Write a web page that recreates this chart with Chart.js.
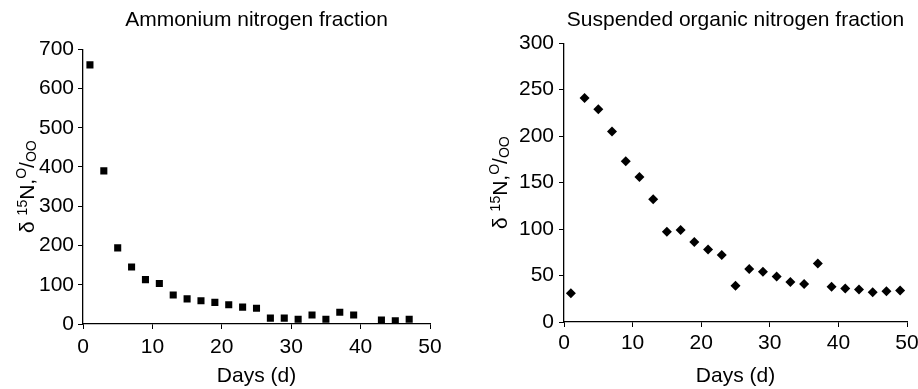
<!DOCTYPE html>
<html>
<head>
<meta charset="utf-8">
<script src="https://cdn.jsdelivr.net/npm/chart.js@4.4.1/dist/chart.umd.min.js"></script>
<style>
  html, body { margin: 0; padding: 0; background: #fff; }
  #wrap { position: relative; width: 918px; height: 389px; }
  .box { position: absolute; top: 0; width: 459px; height: 389px; }
  #b1 { left: 0; }
  #b2 { left: 459px; }
</style>
</head>
<body>
<div id="wrap">
  <div class="box" id="b1"><canvas id="c1"></canvas></div>
  <div class="box" id="b2"><canvas id="c2"></canvas></div>
</div>
<script>
// ---- Data ----
const ammoniumDays = [1, 3, 5, 7, 9, 11, 13, 15, 17, 19, 21, 23, 25, 27, 29, 31, 33, 35, 37, 39, 43, 45, 47];
const ammoniumValues = [660, 390, 194, 145, 113, 103, 74, 64, 59, 55, 49, 43, 40, 15, 15, 12, 23, 12, 30, 23, 10, 8, 12];

const organicDays = [1, 3, 5, 7, 9, 11, 13, 15, 17, 19, 21, 23, 25, 27, 29, 31, 33, 35, 37, 39, 41, 43, 45, 47, 49];
const organicValues = [31, 241, 229, 205, 173, 156, 132, 97, 99, 86, 78, 72, 39, 57, 54, 49, 43, 41, 63, 38, 36, 35, 32, 33, 34];

const title1 = 'Ammonium nitrogen fraction';
const title2 = 'Suspended organic nitrogen fraction';
const xTitle = 'Days (d)';
const xTicks = [0, 10, 20, 30, 40, 50];
const yTicks1 = [0, 100, 200, 300, 400, 500, 600, 700];
const yTicks2 = [0, 50, 100, 150, 200, 250, 300];

const FONT = "'Liberation Sans', Arial, Helvetica, sans-serif";
const FS = 21;

function yLabelPlugin(baselineX) {
  return {
    id: 'yLabel',
    afterDraw(chart) {
      const ctx = chart.ctx;
      const ca = chart.chartArea;
      const cy = (ca.top + ca.bottom) / 2;
      const parts = [
        { t: '\u03B4 ', size: 21, dy: 0 },
        { t: '15', size: 14, dy: -7 },
        { t: 'N,', size: 21, dy: 0 },
        { t: 'O', size: 14, dy: -8 },
        { t: '/', size: 21, dy: 0 },
        { t: 'OO', size: 14, dy: 2 }
      ];
      ctx.save();
      ctx.translate(baselineX, cy);
      ctx.rotate(-Math.PI / 2);
      ctx.fillStyle = '#000';
      ctx.textBaseline = 'alphabetic';
      ctx.textAlign = 'left';
      let total = 0;
      parts.forEach(p => { ctx.font = p.size + 'px ' + FONT; p.w = ctx.measureText(p.t).width; total += p.w; });
      let x = -total / 2;
      parts.forEach(p => { ctx.font = p.size + 'px ' + FONT; ctx.fillText(p.t, x, p.dy); x += p.w; });
      ctx.restore();
    }
  };
}

function makeChart(id, cfg) {
  return new Chart(document.getElementById(id), {
    type: 'scatter',
    data: {
      datasets: [{
        data: cfg.xs.map((d, i) => ({ x: d, y: cfg.ys[i] })),
        pointStyle: cfg.pointStyle,
        pointRadius: cfg.radius,
        pointHoverRadius: cfg.radius,
        backgroundColor: '#000',
        borderColor: '#000',
        borderWidth: 0
      }]
    },
    options: {
      responsive: true,
      maintainAspectRatio: false,
      animation: false,
      events: [],
      layout: { padding: { left: 0, right: cfg.padRight, top: 0, bottom: 0 } },
      plugins: {
        legend: { display: false },
        tooltip: { enabled: false },
        title: {
          display: true,
          text: cfg.title,
          fullSize: false,
          color: '#000',
          font: { family: FONT, size: FS, weight: 'normal', lineHeight: 1.2 },
          padding: { top: 8, bottom: cfg.titleBottom }
        }
      },
      scales: {
        x: {
          type: 'linear',
          min: 0, max: 50,
          afterBuildTicks: (s) => { s.ticks = xTicks.map(v => ({ value: v })); },
          afterFit: (s) => { s.height = cfg.xHeight; s.paddingLeft = 0; s.paddingRight = 0; },
          grid: { display: true, drawOnChartArea: false, drawTicks: true, tickLength: 5, color: '#000', lineWidth: 1 },
          border: { display: true, color: '#000', width: 1.3 },
          ticks: { color: '#000', font: { family: FONT, size: FS }, padding: cfg.xPad, maxRotation: 0 },
          title: { display: true, text: xTitle, color: '#000', font: { family: FONT, size: FS, lineHeight: 1.2 }, padding: { top: 0, bottom: 0 } }
        },
        y: {
          type: 'linear',
          min: 0, max: cfg.yMax,
          afterBuildTicks: (s) => { s.ticks = cfg.yTicks.map(v => ({ value: v })); },
          afterFit: (s) => { s.width = cfg.yWidth; s.paddingTop = 0; s.paddingBottom = 0; },
          grid: { display: true, drawOnChartArea: false, drawTicks: true, tickLength: 5, color: '#000', lineWidth: 1 },
          border: { display: true, color: '#000', width: 1.3 },
          ticks: { color: '#000', font: { family: FONT, size: FS }, padding: cfg.yPad }
        }
      }
    },
    plugins: [yLabelPlugin(cfg.labelX)]
  });
}

makeChart('c1', {
  xs: ammoniumDays, ys: ammoniumValues, title: title1,
  pointStyle: 'rect', radius: 5,
  yMax: 700, yTicks: yTicks1,
  padRight: 29, titleBottom: 16, xHeight: 65, yWidth: 83, xPad: 6, yPad: 4, labelX: 34
});

makeChart('c2', {
  xs: organicDays, ys: organicValues, title: title2,
  pointStyle: 'rectRot', radius: 5,
  yMax: 300, yTicks: yTicks2,
  padRight: 11, titleBottom: 10, xHeight: 67, yWidth: 105, xPad: 4, yPad: 5, labelX: 48
});
</script>
</body>
</html>
